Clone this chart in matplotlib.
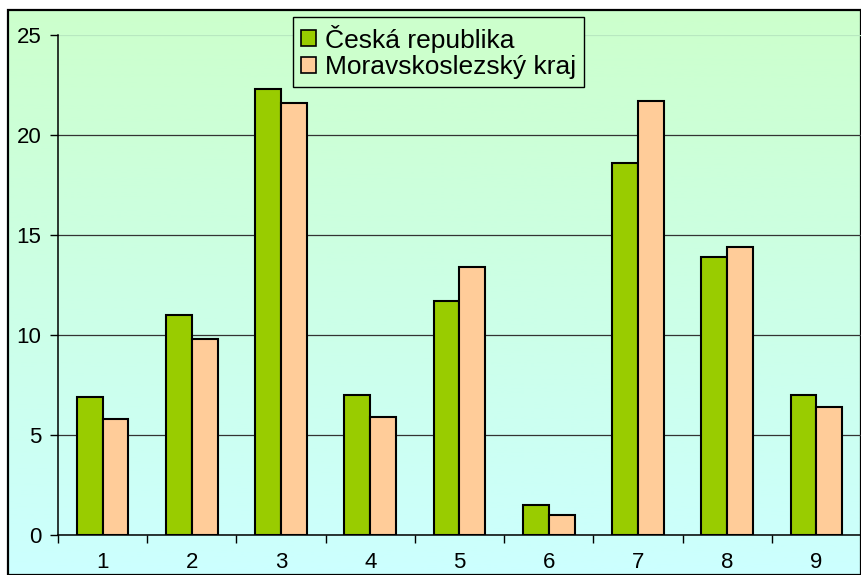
import numpy as np
import matplotlib
matplotlib.use("Agg")
import matplotlib.pyplot as plt
from matplotlib.patches import Rectangle, Patch

categories = ["1", "2", "3", "4", "5", "6", "7", "8", "9"]
cr_values = [6.9, 11.0, 22.3, 7.0, 11.7, 1.5, 18.6, 13.9, 7.0]
msk_values = [5.8, 9.8, 21.6, 5.9, 13.4, 1.0, 21.7, 14.4, 6.4]
series_names = ["Česká republika", "Moravskoslezský kraj"]

GREEN = "#99CC00"
PEACH = "#FFCC99"

plt.rcParams["font.family"] = ["Liberation Sans", "DejaVu Sans"]

W, H = 861, 575
fig = plt.figure(figsize=(W / 100, H / 100), dpi=100)

# chart area with vertical gradient (light green -> light cyan)
bg = fig.add_axes([8 / W, 0, 1 - 8 / W, (H - 10) / H])
top = np.array([204, 255, 204]) / 255
bot = np.array([204, 255, 255]) / 255
t = np.linspace(0, 1, 256)[:, None]
grad = top[None, :] * (1 - t) + bot[None, :] * t
bg.imshow(grad[:, None, :], aspect="auto", extent=[0, 1, 0, 1])
bg.set_xlim(0, 1)
bg.set_ylim(0, 1)
bg.set_axis_off()
bg.add_patch(Rectangle((0, 0), 1, 1, transform=bg.transAxes, fill=False,
                       edgecolor="black", linewidth=1.6, clip_on=False))

# plot area
ax = fig.add_axes([58 / W, (H - 534.7) / H, 1 - 58 / W, 500 / H])
ax.patch.set_alpha(0)

x = np.arange(len(categories))
w = 0.29
ax.bar(x - w / 2, cr_values, width=w, color=GREEN, edgecolor="black",
       linewidth=1.5, zorder=3)
ax.bar(x + w / 2, msk_values, width=w, color=PEACH, edgecolor="black",
       linewidth=1.5, zorder=3)

ax.set_ylim(0, 25)
ax.set_xlim(-0.5, -0.5 + (W - 58) / 90.5)
ax.set_yticks([0, 5, 10, 15, 20, 25])
ax.set_xticks(x)
ax.set_xticklabels(categories)
ax.set_xticks(np.arange(len(categories) + 1) - 0.5, minor=True)

ax.yaxis.grid(True, color="#333333", linewidth=0.9, zorder=1)
ax.yaxis.get_gridlines()[-1].set_color("#b8e8c0")  # top line barely visible
ax.set_axisbelow(True)

for s in ["top", "right"]:
    ax.spines[s].set_visible(False)
ax.spines["left"].set_linewidth(1.1)
ax.spines["bottom"].set_linewidth(1.1)

ax.tick_params(axis="y", direction="out", length=6, width=1, pad=6,
               labelsize=16)
ax.tick_params(axis="x", which="major", length=0, pad=12.5, labelsize=16)
ax.tick_params(axis="x", which="minor", direction="out", length=6, width=1)

handles = [Patch(facecolor=GREEN, edgecolor="black", linewidth=1.2),
           Patch(facecolor=PEACH, edgecolor="black", linewidth=1.2)]
leg = ax.legend(handles, series_names, loc="upper left",
                bbox_to_anchor=((292.7 - 58) / 803, (534.7 - 16.7) / 500),
                borderaxespad=0, fontsize=19, handlelength=0.57,
                handleheight=0.57, handletextpad=0.35, labelspacing=0.1,
                borderpad=0.3, fancybox=False, framealpha=1,
                facecolor="#CCFFCC", edgecolor="black")
leg.get_frame().set_linewidth(1.0)

fig.savefig("out.png", dpi=100)
